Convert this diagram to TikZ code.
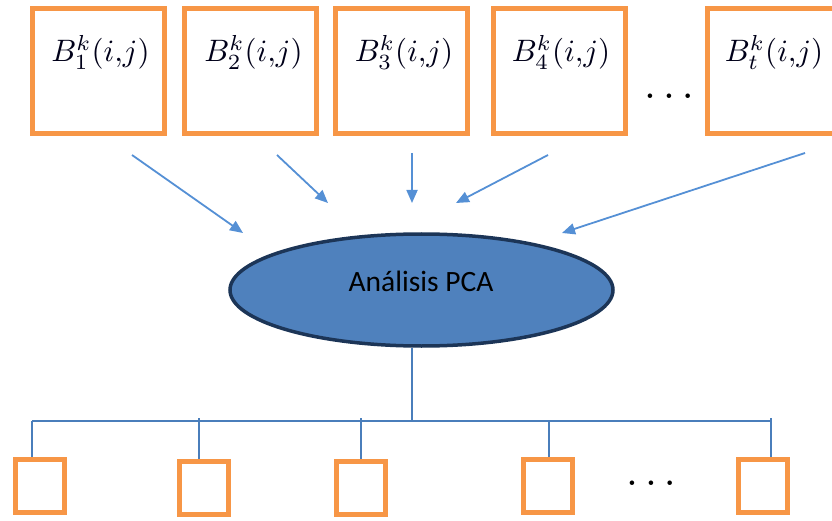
\documentclass[tikz,border=0pt]{standalone}
\usepackage{fontspec}
\newfontfamily\carlito{Carlito}
\usetikzlibrary{arrows.meta,shapes.geometric}

\definecolor{boxorange}{HTML}{F79646}
\definecolor{flowblue}{HTML}{5590D5}
\definecolor{treeblue}{HTML}{4A7EBB}
\definecolor{pcafill}{HTML}{4F81BD}
\definecolor{pcaedge}{HTML}{1C3557}

\tikzset{
  band/.style={draw=boxorange, line width=5pt, fill=white, inner sep=0pt,
    minimum width=132pt, minimum height=125pt},
  comp/.style={draw=boxorange, line width=5pt, fill=white, inner sep=0pt,
    minimum width=49pt, minimum height=53pt},
  bandlabel/.style={anchor=base, inner sep=0pt, scale=3.1, text=black!90!blue},
  feed/.style={draw=flowblue, line width=1.8pt, -{Triangle[length=13pt,width=11pt]}},
  tree/.style={draw=treeblue, line width=2pt},
  more/.style={anchor=base, inner sep=0pt, scale=4.27},
}

\begin{document}
\begin{tikzpicture}[x=1pt,y=1pt]
\useasboundingbox (0,0) rectangle (832,520);
\clip (0,0) rectangle (832,520);

% input bands
\node[band] (b1) at (98.5,449) {};
\node[band] (b2) at (250.5,449) {};
\node[band] (b3) at (401.5,449) {};
\node[band] (b4) at (559,449) {};
\node[band] (bt) at (773.5,449) {};

\node[bandlabel] (l1) at (100.5,458) {$B_1^k(i{,}j)$};
\node[bandlabel] (l2) at (253.5,458) {$B_2^k(i{,}j)$};
\node[bandlabel] (l3) at (404,458) {$B_3^k(i{,}j)$};
\node[bandlabel] (l4) at (561,458) {$B_4^k(i{,}j)$};
\node[bandlabel] (lt) at (774,458) {$B_t^k(i{,}j)$};

\node[more] (dtop) at (669,421.7) {$\ldots$};

% PCA node
\node[ellipse, draw=pcaedge, fill=pcafill, line width=3.5pt, inner sep=0pt,
      minimum width=383pt, minimum height=112pt] (pca) at (421.5,230) {};
\node[anchor=base, inner sep=0pt, font=\carlito\fontsize{29.5}{34}\selectfont,
      text=black] (pcatext) at (421,229) {Análisis PCA};

% arrows into the PCA node
\coordinate (s1) at (132,365);  \coordinate (e1) at (243,287);
\coordinate (s2) at (277,365);  \coordinate (e2) at (328,317);
\coordinate (s3) at (412,367);  \coordinate (e3) at (412,317);
\coordinate (s4) at (548,365);  \coordinate (e4) at (456,317);
\coordinate (s5) at (805,367);  \coordinate (e5) at (562,287);
\foreach \i in {1,...,5} \draw[feed] (s\i) -- (e\i);

% output components
\node[comp] (c1) at (39.5,34) {};
\node[comp] (c2) at (203.5,32) {};
\node[comp] (c3) at (361,32) {};
\node[comp] (c4) at (548,34.5) {};
\node[comp] (c5) at (762.5,34.5) {};

\node[more] (dbot) at (651,34.7) {$\ldots$};

% tree from the PCA node to the components
\coordinate (hub) at (412,99);
\coordinate (d1) at (32,99);
\coordinate (d2) at (199,102);
\coordinate (d3) at (361,102);
\coordinate (d4) at (549,99);
\coordinate (d5) at (771,102);
\draw[tree] (hub |- pca.south) -- (hub);
\draw[tree] (d1) -- (d5 |- d1);
\draw[tree] (d1) -- (d1 |- c1.north);
\draw[tree] (d2) -- (d2 |- c2.north);
\draw[tree] (d3) -- (d3 |- c3.north);
\draw[tree] (d4) -- (d4 |- c4.north);
\draw[tree] (d5) -- (d5 |- c5.north);
\end{tikzpicture}
\end{document}
